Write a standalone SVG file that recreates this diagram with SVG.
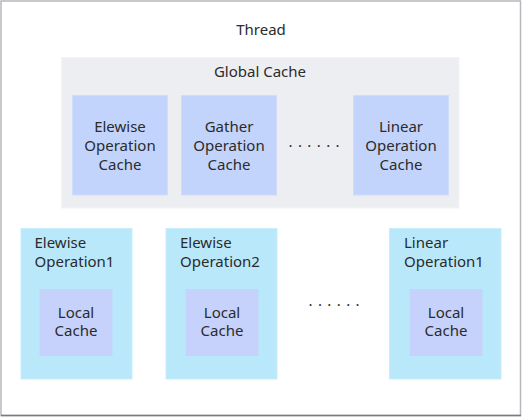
<svg xmlns="http://www.w3.org/2000/svg" width="522" height="417" viewBox="0 0 522 417">
<style>
text{font-family:"Noto Sans","Open Sans","DejaVu Sans",sans-serif;font-size:15px;fill:#2b2b2b}
.c{text-anchor:middle}
.opc{fill:#c2d4fc;stroke:#cfdcfc;stroke-width:1}
.op{fill:#bae8fb;stroke:#c8edfc;stroke-width:1}
.lc{fill:#c6d2fb}
.dots{letter-spacing:5.4px}
</style>
<rect x="1" y="1" width="519.5" height="414.5" fill="#ffffff" stroke="#b6b6bd" stroke-width="1.5"/>
<line x1="1" y1="415.5" x2="521" y2="415.5" stroke="#7a7a82" stroke-width="1.5"/>
<g id="thread">
<text class="c" x="261" y="35">Thread</text>
</g>
<g id="global-cache">
<rect x="61.5" y="57.5" width="397.5" height="150.5" fill="#edeef2" stroke="#f3f4f7"/>
<text class="c" x="260" y="77">Global Cache</text>
</g>
<g id="elewise-op-cache">
<rect class="opc" x="72.5" y="95.5" width="95" height="99.5"/>
<text class="c" x="120" y="132">Elewise</text>
<text class="c" x="120" y="151">Operation</text>
<text class="c" x="120" y="169.5">Cache</text>
</g>
<g id="gather-op-cache">
<rect class="opc" x="181.5" y="95.5" width="95" height="99.5"/>
<text class="c" x="229" y="132">Gather</text>
<text class="c" x="229" y="151">Operation</text>
<text class="c" x="229" y="169.5">Cache</text>
</g>
<g id="dots-top">
<text class="dots" x="288.5" y="147">......</text>
</g>
<g id="linear-op-cache">
<rect class="opc" x="353.5" y="95.5" width="95" height="99.5"/>
<text class="c" x="401" y="132">Linear</text>
<text class="c" x="401" y="151">Operation</text>
<text class="c" x="401" y="169.5">Cache</text>
</g>
<g id="elewise-op1">
<rect class="op" x="21" y="228.5" width="111" height="150.5"/>
<text x="34.5" y="247.5">Elewise</text>
<text x="34.5" y="266.5">Operation1</text>
<g id="local-cache-1">
<rect class="lc" x="39.5" y="289" width="73" height="67"/>
<text class="c" x="76" y="317.5">Local</text>
<text class="c" x="76" y="336">Cache</text>
</g>
</g>
<g id="elewise-op2">
<rect class="op" x="166" y="228.5" width="111" height="150.5"/>
<text x="180" y="247.5">Elewise</text>
<text x="180" y="266.5">Operation2</text>
<g id="local-cache-2">
<rect class="lc" x="185.5" y="289" width="73" height="67"/>
<text class="c" x="222" y="317.5">Local</text>
<text class="c" x="222" y="336">Cache</text>
</g>
</g>
<g id="dots-bottom">
<text class="dots" x="308.5" y="306">......</text>
</g>
<g id="linear-op1">
<rect class="op" x="389.5" y="228.5" width="111.5" height="150.5"/>
<text x="404" y="247.5">Linear</text>
<text x="404" y="266.5">Operation1</text>
<g id="local-cache-3">
<rect class="lc" x="409.5" y="289" width="73" height="67"/>
<text class="c" x="446" y="317.5">Local</text>
<text class="c" x="446" y="336">Cache</text>
</g>
</g>
<g id="connectors"/>
</svg>
